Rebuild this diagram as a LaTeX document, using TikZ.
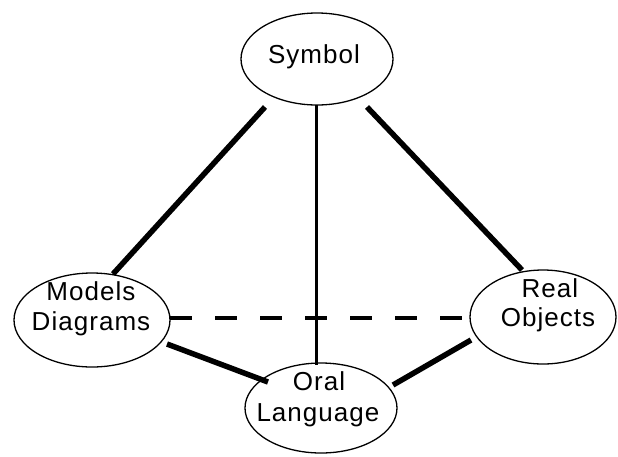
\documentclass[tikz,border=0pt]{standalone}
\usepackage{fontspec}
\setmainfont[LetterSpace=4]{Liberation Sans}
\usetikzlibrary{shapes.geometric}
\begin{document}
\begin{tikzpicture}[x=1pt,y=-1pt,
  oval/.style={draw,ellipse,line width=1.3pt,inner sep=0pt},
  lbl/.style={font=\fontsize{26}{30}\selectfont,inner sep=0pt,anchor=base},
  heavy/.style={line width=5.5pt},
  medium/.style={line width=3pt},
  dashline/.style={line width=4pt,dash pattern=on 22pt off 23pt}]
\useasboundingbox (0,0) rectangle (618,456);
% ellipses
\node[oval,minimum width=152pt,minimum height=92pt] (sym) at (317,59) {};
\node[oval,minimum width=156pt,minimum height=94pt] (mod) at (92,320) {};
\node[oval,minimum width=146pt,minimum height=94pt] (real) at (543,317) {};
\node[oval,minimum width=152pt,minimum height=90pt] (oral) at (321,408) {};
% labels
\node[lbl] (tsym) at (314,63) {Symbol};
\node[lbl] (tmod1) at (91,300) {Models};
\node[lbl] (tmod2) at (91,330) {Diagrams};
\node[lbl] (treal1) at (550,297) {Real};
\node[lbl] (treal2) at (548,326) {Objects};
\node[lbl] (toral1) at (319,390) {Oral};
\node[lbl] (toral2) at (318,421) {Language};
% connector end points
\coordinate (sm1) at (265,107);
\coordinate (sm2) at (113,274);
\coordinate (sr1) at (367,107);
\coordinate (sr2) at (522,270);
\coordinate (so1) at (316,105);
\coordinate (so2) at (316,365);
\coordinate (mr1) at (170,318);
\coordinate (mr2) at (471,318);
\coordinate (mo1) at (167,344);
\coordinate (mo2) at (268,382);
\coordinate (ro1) at (471,340);
\coordinate (ro2) at (393,385);
% connectors
\draw[heavy] (sm1) -- (sm2);
\draw[heavy] (sr1) -- (sr2);
\draw[medium] (so1) -- (so2);
\draw[dashline] (mr1) -- (mr2);
\draw[heavy] (mo1) -- (mo2);
\draw[heavy] (ro1) -- (ro2);
\end{tikzpicture}
\end{document}
